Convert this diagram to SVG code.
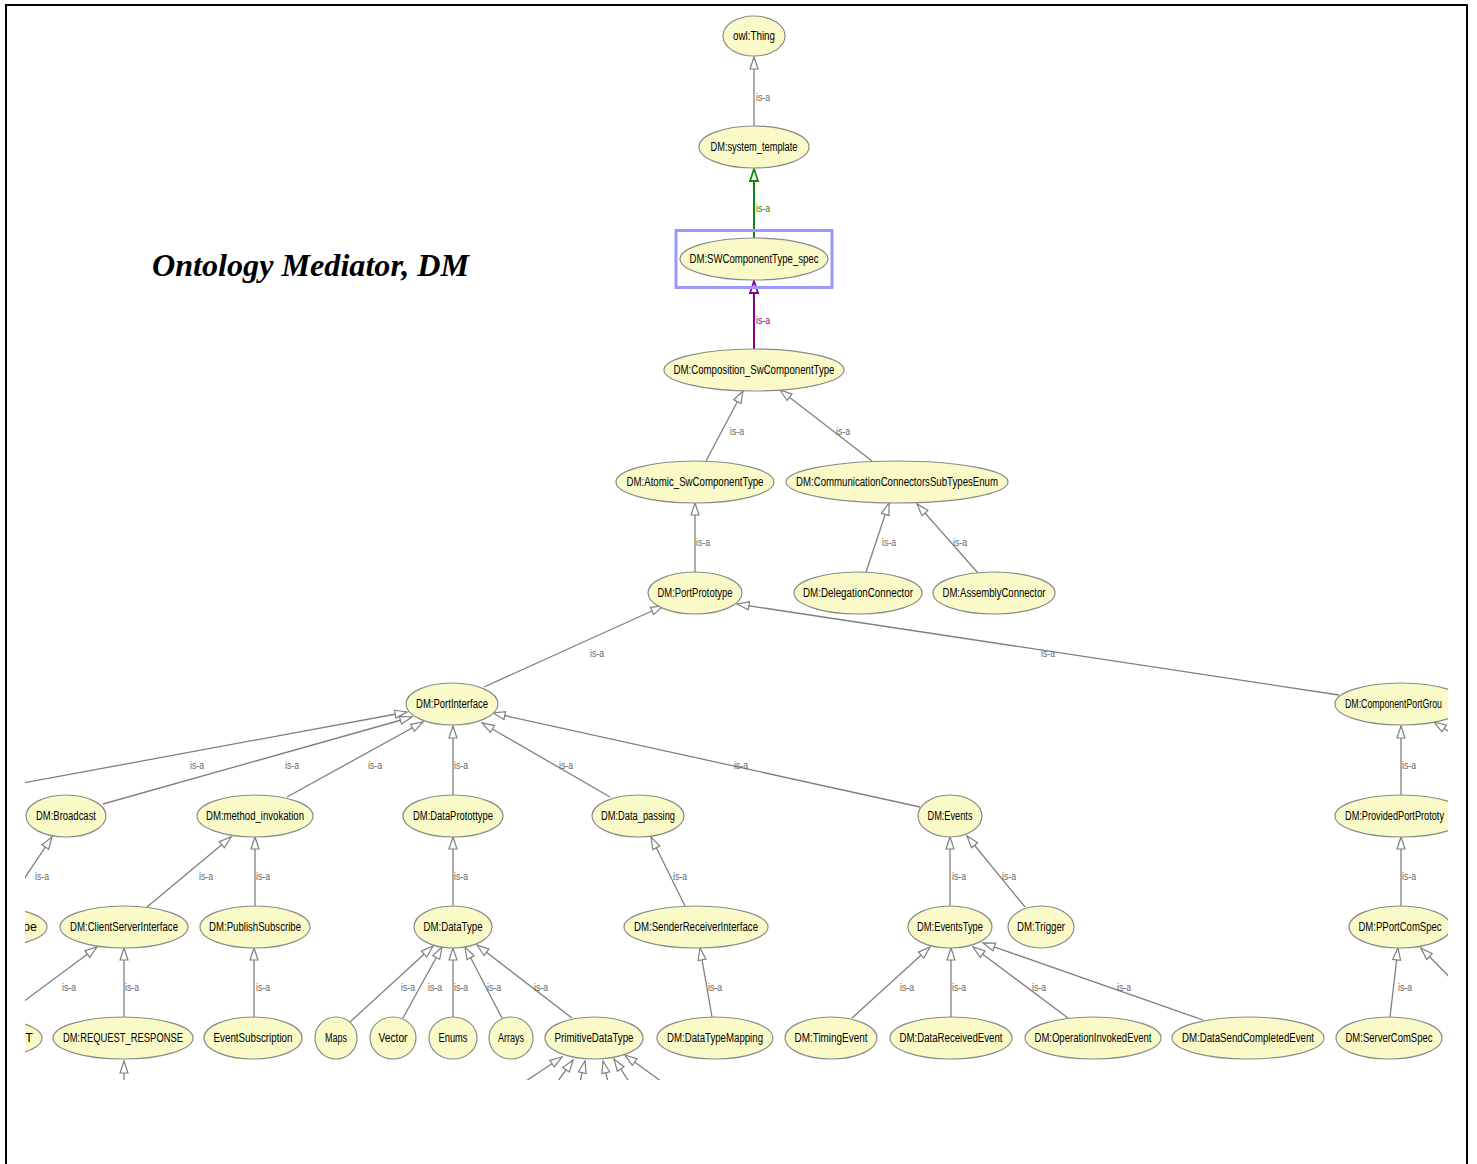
<svg xmlns="http://www.w3.org/2000/svg" width="1477" height="1164" viewBox="0 0 1477 1164">
  <style>
    .n { fill: #fafac8; stroke: #8a8a8a; stroke-width: 1.2; }
    .t { font-family: "Liberation Sans", Arial, sans-serif; font-size: 12.5px; fill: #000000; text-anchor: middle; }
    .ts { font-family: "Liberation Sans", Arial, sans-serif; font-size: 12.5px; fill: #000000; }
    .e { fill: none; stroke: #7f7f7f; stroke-width: 1.3; marker-end: url(#tri); }
    .eg { fill: none; stroke: #118811; stroke-width: 2; marker-end: url(#triG); }
    .ep { fill: none; stroke: #880088; stroke-width: 2; marker-end: url(#triP); }
    .l { font-family: "Liberation Sans", Arial, sans-serif; font-size: 11px; fill: #666666; }
    .lg { font-family: "Liberation Sans", Arial, sans-serif; font-size: 11px; fill: #118811; }
    .lp { font-family: "Liberation Sans", Arial, sans-serif; font-size: 11px; fill: #880088; }
    .title { font-family: "Liberation Serif", "Times New Roman", serif; font-size: 32px; font-weight: bold; font-style: italic; fill: #000; }
  </style>
  <defs>
    <marker id="tri" markerUnits="userSpaceOnUse" markerWidth="14" markerHeight="10" refX="12.5" refY="4.5" orient="auto" overflow="visible">
      <path d="M0.5,0.5 L12.5,4.5 L0.5,8.5 z" fill="#ffffff" stroke="#7f7f7f" stroke-width="1.2"/>
    </marker>
    <marker id="triG" markerUnits="userSpaceOnUse" markerWidth="14" markerHeight="10" refX="12.5" refY="4.5" orient="auto" overflow="visible">
      <path d="M0.5,0.5 L12.5,4.5 L0.5,8.5 z" fill="#ffffff" stroke="#118811" stroke-width="1.8"/>
    </marker>
    <marker id="triP" markerUnits="userSpaceOnUse" markerWidth="14" markerHeight="10" refX="12.5" refY="4.5" orient="auto" overflow="visible">
      <path d="M0.5,0.5 L12.5,4.5 L0.5,8.5 z" fill="#ffffff" stroke="#880088" stroke-width="1.8"/>
    </marker>
    <clipPath id="view">
      <rect x="25" y="10" width="1423" height="1070"/>
    </clipPath>
  </defs>

  <rect x="0" y="0" width="1477" height="1164" fill="#ffffff"/>
  <!-- page frame -->
  <rect x="6" y="5" width="1461" height="1200" fill="none" stroke="#000" stroke-width="2"/>

  <text class="title" x="152" y="276" textLength="317" lengthAdjust="spacingAndGlyphs">Ontology Mediator, DM</text>

  <g clip-path="url(#view)">
    <!-- is-a connectors: child to parent -->
    <g id="connectors">
      <line class="e" x1="754" y1="127" x2="754" y2="57"/>
      <line class="eg" x1="754" y1="238" x2="754" y2="169"/>
      <line class="ep" x1="754" y1="349" x2="754" y2="281"/>
      <line class="e" x1="706" y1="461" x2="743" y2="391"/>
      <line class="e" x1="872" y1="461" x2="780" y2="390"/>
      <line class="e" x1="695" y1="572" x2="695" y2="503"/>
      <line class="e" x1="866" y1="572" x2="889" y2="503"/>
      <line class="e" x1="978" y1="573" x2="917" y2="504"/>
      <line class="e" x1="484" y1="687" x2="663" y2="606"/>
      <line class="e" x1="1339" y1="695" x2="737" y2="604"/>
      <line class="e" x1="1470" y1="745" x2="1434" y2="722"/>
      <line class="e" x1="-20" y1="791" x2="407" y2="712"/>
      <line class="e" x1="103" y1="804" x2="412" y2="717"/>
      <line class="e" x1="287" y1="797" x2="423" y2="722"/>
      <line class="e" x1="453" y1="795" x2="453" y2="726"/>
      <line class="e" x1="610" y1="797" x2="482" y2="723"/>
      <line class="e" x1="920" y1="807" x2="493" y2="713"/>
      <line class="e" x1="1401" y1="795" x2="1401" y2="726"/>
      <line class="e" x1="10" y1="900" x2="52" y2="837"/>
      <line class="e" x1="147" y1="907" x2="231" y2="837"/>
      <line class="e" x1="255" y1="906" x2="255" y2="837"/>
      <line class="e" x1="453" y1="906" x2="453" y2="837"/>
      <line class="e" x1="685" y1="906" x2="651" y2="837"/>
      <line class="e" x1="950" y1="906" x2="950" y2="837"/>
      <line class="e" x1="1025" y1="907" x2="967" y2="836"/>
      <line class="e" x1="1401" y1="906" x2="1401" y2="837"/>
      <line class="e" x1="0" y1="1019" x2="97" y2="947"/>
      <line class="e" x1="124" y1="1017" x2="124" y2="948"/>
      <line class="e" x1="254" y1="1017" x2="254" y2="948"/>
      <line class="e" x1="350" y1="1022" x2="433" y2="946"/>
      <line class="e" x1="403" y1="1018" x2="442" y2="947"/>
      <line class="e" x1="453" y1="1017" x2="453" y2="948"/>
      <line class="e" x1="502" y1="1018" x2="465" y2="947"/>
      <line class="e" x1="572" y1="1018" x2="477" y2="945"/>
      <line class="e" x1="712" y1="1017" x2="700" y2="948"/>
      <line class="e" x1="852" y1="1018" x2="930" y2="947"/>
      <line class="e" x1="951" y1="1017" x2="951" y2="948"/>
      <line class="e" x1="1068" y1="1018" x2="973" y2="947"/>
      <line class="e" x1="1203" y1="1020" x2="983" y2="943"/>
      <line class="e" x1="1390" y1="1017" x2="1398" y2="948"/>
      <line class="e" x1="1470" y1="998" x2="1421" y2="948"/>
      <line class="e" x1="124" y1="1095" x2="124" y2="1061"/>
      <line class="e" x1="505" y1="1095" x2="562" y2="1057"/>
      <line class="e" x1="548" y1="1095" x2="573" y2="1060"/>
      <line class="e" x1="577" y1="1095" x2="585" y2="1061"/>
      <line class="e" x1="611" y1="1095" x2="603" y2="1061"/>
      <line class="e" x1="638" y1="1095" x2="614" y2="1059"/>
      <line class="e" x1="680" y1="1095" x2="625" y2="1055"/>

      <!-- edge labels -->
      <text class="l" x="756" y="101" textLength="14" lengthAdjust="spacingAndGlyphs">is-a</text>
      <text class="lg" x="756" y="212" textLength="14" lengthAdjust="spacingAndGlyphs">is-a</text>
      <text class="lp" x="756" y="324" textLength="14" lengthAdjust="spacingAndGlyphs">is-a</text>
      <text class="l" x="730" y="435" textLength="14" lengthAdjust="spacingAndGlyphs">is-a</text>
      <text class="l" x="836" y="435" textLength="14" lengthAdjust="spacingAndGlyphs">is-a</text>
      <text class="l" x="696" y="546" textLength="14" lengthAdjust="spacingAndGlyphs">is-a</text>
      <text class="l" x="882" y="546" textLength="14" lengthAdjust="spacingAndGlyphs">is-a</text>
      <text class="l" x="953" y="546" textLength="14" lengthAdjust="spacingAndGlyphs">is-a</text>
      <text class="l" x="590" y="657" textLength="14" lengthAdjust="spacingAndGlyphs">is-a</text>
      <text class="l" x="1041" y="657" textLength="14" lengthAdjust="spacingAndGlyphs">is-a</text>
      <text class="l" x="190" y="769" textLength="14" lengthAdjust="spacingAndGlyphs">is-a</text>
      <text class="l" x="285" y="769" textLength="14" lengthAdjust="spacingAndGlyphs">is-a</text>
      <text class="l" x="368" y="769" textLength="14" lengthAdjust="spacingAndGlyphs">is-a</text>
      <text class="l" x="454" y="769" textLength="14" lengthAdjust="spacingAndGlyphs">is-a</text>
      <text class="l" x="559" y="769" textLength="14" lengthAdjust="spacingAndGlyphs">is-a</text>
      <text class="l" x="734" y="769" textLength="14" lengthAdjust="spacingAndGlyphs">is-a</text>
      <text class="l" x="1402" y="769" textLength="14" lengthAdjust="spacingAndGlyphs">is-a</text>
      <text class="l" x="35" y="880" textLength="14" lengthAdjust="spacingAndGlyphs">is-a</text>
      <text class="l" x="199" y="880" textLength="14" lengthAdjust="spacingAndGlyphs">is-a</text>
      <text class="l" x="256" y="880" textLength="14" lengthAdjust="spacingAndGlyphs">is-a</text>
      <text class="l" x="454" y="880" textLength="14" lengthAdjust="spacingAndGlyphs">is-a</text>
      <text class="l" x="673" y="880" textLength="14" lengthAdjust="spacingAndGlyphs">is-a</text>
      <text class="l" x="952" y="880" textLength="14" lengthAdjust="spacingAndGlyphs">is-a</text>
      <text class="l" x="1002" y="880" textLength="14" lengthAdjust="spacingAndGlyphs">is-a</text>
      <text class="l" x="1402" y="880" textLength="14" lengthAdjust="spacingAndGlyphs">is-a</text>
      <text class="l" x="62" y="991" textLength="14" lengthAdjust="spacingAndGlyphs">is-a</text>
      <text class="l" x="125" y="991" textLength="14" lengthAdjust="spacingAndGlyphs">is-a</text>
      <text class="l" x="256" y="991" textLength="14" lengthAdjust="spacingAndGlyphs">is-a</text>
      <text class="l" x="401" y="991" textLength="14" lengthAdjust="spacingAndGlyphs">is-a</text>
      <text class="l" x="428" y="991" textLength="14" lengthAdjust="spacingAndGlyphs">is-a</text>
      <text class="l" x="454" y="991" textLength="14" lengthAdjust="spacingAndGlyphs">is-a</text>
      <text class="l" x="487" y="991" textLength="14" lengthAdjust="spacingAndGlyphs">is-a</text>
      <text class="l" x="534" y="991" textLength="14" lengthAdjust="spacingAndGlyphs">is-a</text>
      <text class="l" x="708" y="991" textLength="14" lengthAdjust="spacingAndGlyphs">is-a</text>
      <text class="l" x="900" y="991" textLength="14" lengthAdjust="spacingAndGlyphs">is-a</text>
      <text class="l" x="952" y="991" textLength="14" lengthAdjust="spacingAndGlyphs">is-a</text>
      <text class="l" x="1032" y="991" textLength="14" lengthAdjust="spacingAndGlyphs">is-a</text>
      <text class="l" x="1117" y="991" textLength="14" lengthAdjust="spacingAndGlyphs">is-a</text>
      <text class="l" x="1398" y="991" textLength="14" lengthAdjust="spacingAndGlyphs">is-a</text>
    </g>

    <!-- selection frame around the focused class -->
    <rect x="676" y="230.5" width="156" height="57" fill="none" stroke="#9999ff" stroke-width="3"/>

    <!-- class nodes -->
    <g id="owl_Thing"><ellipse class="n" cx="754" cy="36" rx="31" ry="20"/><text class="t" x="754" y="40" textLength="42" lengthAdjust="spacingAndGlyphs">owl:Thing</text></g>
    <g id="system_template"><ellipse class="n" cx="754" cy="147" rx="55" ry="21"/><text class="t" x="754" y="151" textLength="87" lengthAdjust="spacingAndGlyphs">DM:system_template</text></g>
    <g id="SWComponentType_spec"><ellipse class="n" cx="754" cy="259" rx="74" ry="21"/><text class="t" x="754" y="263" textLength="129" lengthAdjust="spacingAndGlyphs">DM:SWComponentType_spec</text></g>
    <g id="Composition_SwComponentType"><ellipse class="n" cx="754" cy="370" rx="90" ry="21"/><text class="t" x="754" y="374" textLength="161" lengthAdjust="spacingAndGlyphs">DM:Composition_SwComponentType</text></g>
    <g id="Atomic_SwComponentType"><ellipse class="n" cx="695" cy="482" rx="79" ry="21"/><text class="t" x="695" y="486" textLength="137" lengthAdjust="spacingAndGlyphs">DM:Atomic_SwComponentType</text></g>
    <g id="CommunicationConnectorsSubTypesEnum"><ellipse class="n" cx="897" cy="482" rx="111" ry="21"/><text class="t" x="897" y="486" textLength="202" lengthAdjust="spacingAndGlyphs">DM:CommunicationConnectorsSubTypesEnum</text></g>
    <g id="PortPrototype"><ellipse class="n" cx="695" cy="593" rx="47" ry="21"/><text class="t" x="695" y="597" textLength="75" lengthAdjust="spacingAndGlyphs">DM:PortPrototype</text></g>
    <g id="DelegationConnector"><ellipse class="n" cx="858" cy="593" rx="64" ry="21"/><text class="t" x="858" y="597" textLength="110" lengthAdjust="spacingAndGlyphs">DM:DelegationConnector</text></g>
    <g id="AssemblyConnector"><ellipse class="n" cx="994" cy="593" rx="61" ry="21"/><text class="t" x="994" y="597" textLength="103" lengthAdjust="spacingAndGlyphs">DM:AssemblyConnector</text></g>
    <g id="PortInterface"><ellipse class="n" cx="452" cy="704" rx="46" ry="21"/><text class="t" x="452" y="708" textLength="72" lengthAdjust="spacingAndGlyphs">DM:PortInterface</text></g>
    <g id="ComponentPortGroup"><ellipse class="n" cx="1401" cy="704" rx="66" ry="21"/><text class="ts" x="1345" y="708" textLength="97" lengthAdjust="spacingAndGlyphs">DM:ComponentPortGrou</text></g>
    <g id="Broadcast"><ellipse class="n" cx="66" cy="816" rx="40" ry="21"/><text class="t" x="66" y="820" textLength="60" lengthAdjust="spacingAndGlyphs">DM:Broadcast</text></g>
    <g id="method_invokation"><ellipse class="n" cx="255" cy="816" rx="58" ry="21"/><text class="t" x="255" y="820" textLength="98" lengthAdjust="spacingAndGlyphs">DM:method_invokation</text></g>
    <g id="DataProtottype"><ellipse class="n" cx="453" cy="816" rx="50" ry="21"/><text class="t" x="453" y="820" textLength="80" lengthAdjust="spacingAndGlyphs">DM:DataProtottype</text></g>
    <g id="Data_passing"><ellipse class="n" cx="638" cy="816" rx="46" ry="21"/><text class="t" x="638" y="820" textLength="74" lengthAdjust="spacingAndGlyphs">DM:Data_passing</text></g>
    <g id="Events"><ellipse class="n" cx="950" cy="816" rx="32" ry="21"/><text class="t" x="950" y="820" textLength="45" lengthAdjust="spacingAndGlyphs">DM:Events</text></g>
    <g id="ProvidedPortPrototype"><ellipse class="n" cx="1401" cy="816" rx="66" ry="21"/><text class="ts" x="1345" y="820" textLength="99" lengthAdjust="spacingAndGlyphs">DM:ProvidedPortPrototy</text></g>
    <g id="left_type"><ellipse class="n" cx="-20" cy="927" rx="67" ry="21"/><text class="ts" x="37" y="931" text-anchor="end">ype</text></g>
    <g id="ClientServerInterface"><ellipse class="n" cx="124" cy="927" rx="64" ry="21"/><text class="t" x="124" y="931" textLength="108" lengthAdjust="spacingAndGlyphs">DM:ClientServerInterface</text></g>
    <g id="PublishSubscribe"><ellipse class="n" cx="255" cy="927" rx="55" ry="21"/><text class="t" x="255" y="931" textLength="92" lengthAdjust="spacingAndGlyphs">DM:PublishSubscribe</text></g>
    <g id="DataType"><ellipse class="n" cx="453" cy="927" rx="39" ry="21"/><text class="t" x="453" y="931" textLength="59" lengthAdjust="spacingAndGlyphs">DM:DataType</text></g>
    <g id="SenderReceiverInterface"><ellipse class="n" cx="696" cy="927" rx="72" ry="21"/><text class="t" x="696" y="931" textLength="124" lengthAdjust="spacingAndGlyphs">DM:SenderReceiverInterface</text></g>
    <g id="EventsType"><ellipse class="n" cx="950" cy="927" rx="42" ry="21"/><text class="t" x="950" y="931" textLength="66" lengthAdjust="spacingAndGlyphs">DM:EventsType</text></g>
    <g id="Trigger"><ellipse class="n" cx="1041" cy="927" rx="33" ry="21"/><text class="t" x="1041" y="931" textLength="48" lengthAdjust="spacingAndGlyphs">DM:Trigger</text></g>
    <g id="PPortComSpec"><ellipse class="n" cx="1400" cy="927" rx="51" ry="21"/><text class="t" x="1400" y="931" textLength="83" lengthAdjust="spacingAndGlyphs">DM:PPortComSpec</text></g>
    <g id="left_t"><ellipse class="n" cx="-25" cy="1038" rx="67" ry="21"/><text class="ts" x="33" y="1042" text-anchor="end">T</text></g>
    <g id="REQUEST_RESPONSE"><ellipse class="n" cx="123" cy="1038" rx="70" ry="21"/><text class="t" x="123" y="1042" textLength="120" lengthAdjust="spacingAndGlyphs">DM:REQUEST_RESPONSE</text></g>
    <g id="EventSubscription"><ellipse class="n" cx="253" cy="1038" rx="49" ry="21"/><text class="t" x="253" y="1042" textLength="79" lengthAdjust="spacingAndGlyphs">EventSubscription</text></g>
    <g id="Maps"><ellipse class="n" cx="336" cy="1038" rx="21" ry="21"/><text class="t" x="336" y="1042" textLength="22" lengthAdjust="spacingAndGlyphs">Maps</text></g>
    <g id="Vector"><ellipse class="n" cx="393" cy="1038" rx="23" ry="21"/><text class="t" x="393" y="1042" textLength="29" lengthAdjust="spacingAndGlyphs">Vector</text></g>
    <g id="Enums"><ellipse class="n" cx="453" cy="1038" rx="24" ry="21"/><text class="t" x="453" y="1042" textLength="29" lengthAdjust="spacingAndGlyphs">Enums</text></g>
    <g id="Arrays"><ellipse class="n" cx="511" cy="1038" rx="22" ry="21"/><text class="t" x="511" y="1042" textLength="26" lengthAdjust="spacingAndGlyphs">Arrays</text></g>
    <g id="PrimitiveDataType"><ellipse class="n" cx="594" cy="1038" rx="49" ry="21"/><text class="t" x="594" y="1042" textLength="79" lengthAdjust="spacingAndGlyphs">PrimitiveDataType</text></g>
    <g id="DataTypeMapping"><ellipse class="n" cx="715" cy="1038" rx="58" ry="21"/><text class="t" x="715" y="1042" textLength="96" lengthAdjust="spacingAndGlyphs">DM:DataTypeMapping</text></g>
    <g id="TimingEvent"><ellipse class="n" cx="831" cy="1038" rx="46" ry="21"/><text class="t" x="831" y="1042" textLength="73" lengthAdjust="spacingAndGlyphs">DM:TimingEvent</text></g>
    <g id="DataReceivedEvent"><ellipse class="n" cx="951" cy="1038" rx="61" ry="21"/><text class="t" x="951" y="1042" textLength="103" lengthAdjust="spacingAndGlyphs">DM:DataReceivedEvent</text></g>
    <g id="OperationInvokedEvent"><ellipse class="n" cx="1093" cy="1038" rx="68" ry="21"/><text class="t" x="1093" y="1042" textLength="117" lengthAdjust="spacingAndGlyphs">DM:OperationInvokedEvent</text></g>
    <g id="DataSendCompletedEvent"><ellipse class="n" cx="1248" cy="1038" rx="76" ry="21"/><text class="t" x="1248" y="1042" textLength="132" lengthAdjust="spacingAndGlyphs">DM:DataSendCompletedEvent</text></g>
    <g id="ServerComSpec"><ellipse class="n" cx="1389" cy="1038" rx="53" ry="21"/><text class="t" x="1389" y="1042" textLength="87" lengthAdjust="spacingAndGlyphs">DM:ServerComSpec</text></g>
  </g>
</svg>
